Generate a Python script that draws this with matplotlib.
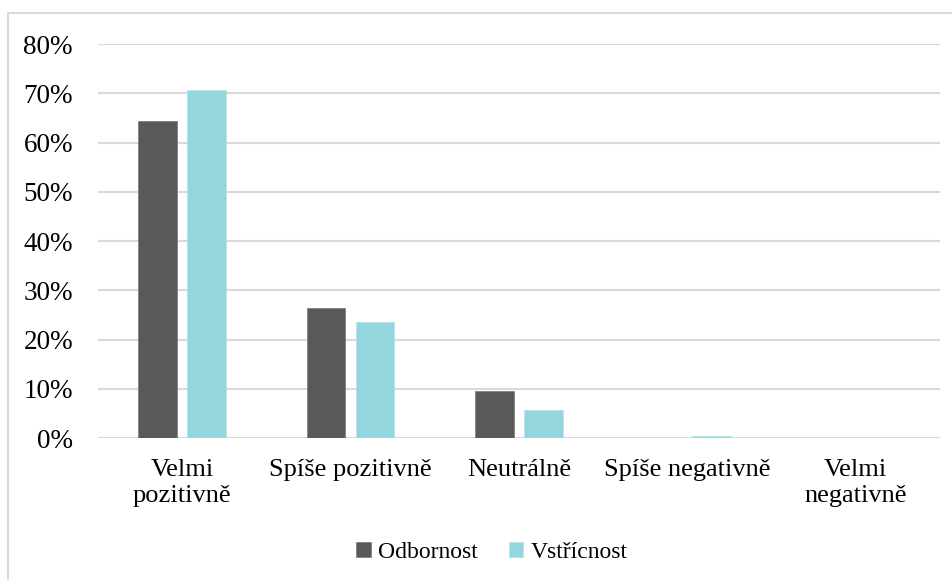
import numpy as np
import matplotlib.pyplot as plt
from matplotlib.patches import Rectangle

categories = ["Velmi\npozitivně", "Spíše pozitivně", "Neutrálně", "Spíše negativně", "Velmi\nnegativně"]
odbornost = [64.4, 26.4, 9.5, 0.0, 0.0]
vstricnost = [70.7, 23.6, 5.7, 0.4, 0.0]
series_names = ["Odbornost", "Vstřícnost"]
yticks = [0, 10, 20, 30, 40, 50, 60, 70, 80]

plt.rcParams["font.family"] = ["Liberation Serif", "DejaVu Serif"]

fig = plt.figure(figsize=(9.53, 5.80), dpi=100)
ax = fig.add_axes([0.1028, 0.2448, 0.8832, 0.6793])

x = np.arange(len(categories))
w = 0.23
gap = 0.06
ax.bar(x - (w + gap) / 2, odbornost, w, color="#595959", edgecolor="#7f7f7f", linewidth=0.6,
       label=series_names[0], zorder=3)
ax.bar(x + (w + gap) / 2, vstricnost, w, color="#93D6DD", edgecolor="#b5e4e8", linewidth=0.6,
       label=series_names[1], zorder=3)

ax.set_xlim(-0.5, len(categories) - 0.5)
ax.set_ylim(0, 80)
ax.set_yticks(yticks)
ax.set_yticklabels([f"{v}%" for v in yticks], fontsize=19.5)
ax.set_xticks(x)
ax.set_xticklabels(categories, fontsize=19, linespacing=1.25)
ax.tick_params(axis="both", length=0)
ax.tick_params(axis="y", pad=18)
ax.tick_params(axis="x", pad=15)
ax.grid(axis="y", color="#d9d9d9", linewidth=1.5, zorder=0)
for s in ax.spines.values():
    s.set_visible(False)

ax.legend(loc="center", bbox_to_anchor=(492 / 953, 1 - 552 / 580), bbox_transform=fig.transFigure,
          ncol=2, frameon=False, fontsize=17, handlelength=0.6, handleheight=0.6,
          handletextpad=0.3, columnspacing=1.35)

fig.patches.append(Rectangle((8 / 953, -0.05), 1.1, 1.05 - 13 / 580, transform=fig.transFigure,
                             fill=False, edgecolor="#d9d9d9", linewidth=1.5))

fig.savefig("out.png", dpi=100)
